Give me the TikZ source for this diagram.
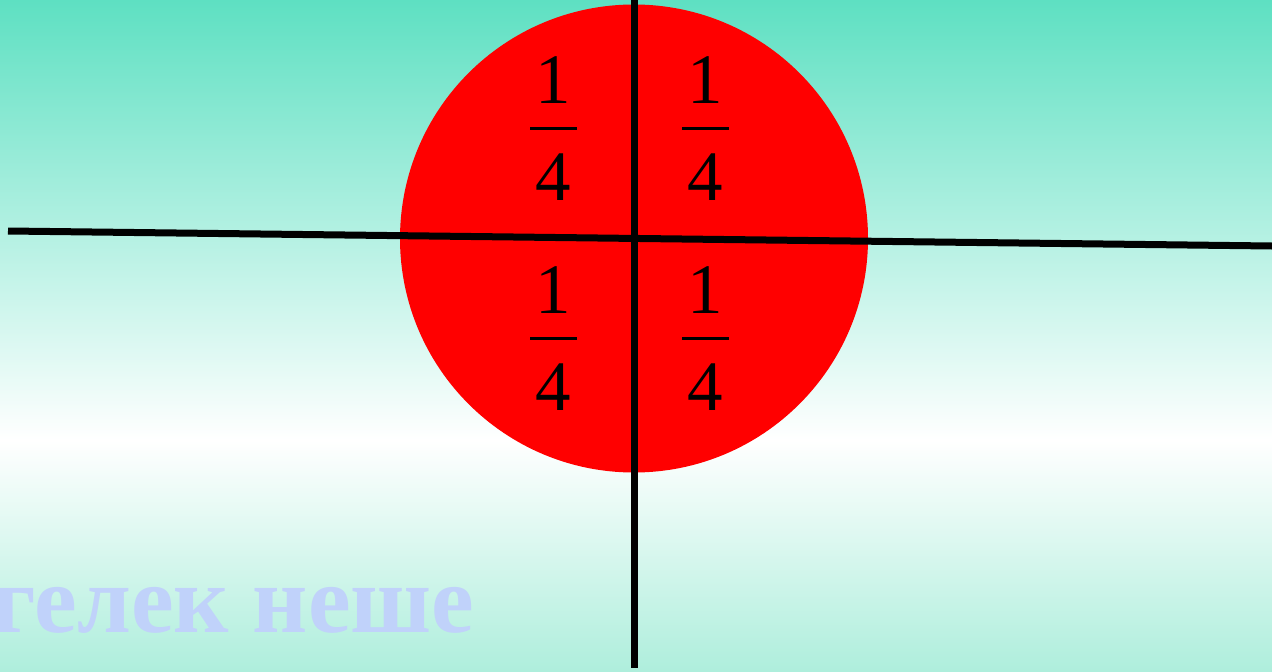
\documentclass[tikz,border=0pt]{standalone}
\usepackage{fontspec}
\setmainfont{Liberation Serif}
\definecolor{SeaTop}   {RGB}{94,224,194}
\definecolor{SeaBottom}{RGB}{174,238,220}
\definecolor{DiskRed}  {RGB}{255,0,0}
\definecolor{WordBlue} {RGB}{192,210,250}
\usetikzlibrary{positioning,calc}
\tikzset{
  digit/.style={font=\fontsize{71}{71}\selectfont,inner sep=0pt,anchor=base},
  fracbar/.style={fill=black,inner sep=0pt,minimum width=47pt,minimum height=3pt},
  cutline/.style={line width=7pt,black}
}

\begin{document}
\begin{tikzpicture}[x=1pt,y=-1pt]
  \useasboundingbox (0,0) rectangle (1272,672);
  % background
  \shade[top color=SeaTop,bottom color=white] (0,0) rectangle (1272,440);
  \shade[top color=white,bottom color=SeaBottom] (0,440) rectangle (1272,672);
  % faded word
  \begin{scope}
    \clip (0,0) rectangle (1272,672);
    \node[anchor=base west,inner sep=0pt,text=WordBlue,
          font=\fontsize{96}{96}\selectfont\bfseries] (word) at (-8,632) {гелек неше};
  \end{scope}
  % disk
  \fill[DiskRed] (634,238.5) circle (234);
  % quarters
  \foreach \name/\x/\y in {q1/553/128, q2/705/128, q3/553/338, q4/705/338}{
    \node[fracbar] (\name) at (\x,\y) {};
    \node[digit] (\name num) at ($(\name)+(0,-25)$) {1};
    \node[digit] (\name den) at ($(\name)+(0,72)$) {4};
  }
  % cuts
  \coordinate (top) at (634,0);
  \coordinate (bot) at (634,668);
  \coordinate (lft) at (8,231);
  \coordinate (rgt) at (1272,246);
  \draw[cutline] (top) -- (bot);
  \draw[cutline] (lft) -- (rgt);
\end{tikzpicture}
\end{document}
